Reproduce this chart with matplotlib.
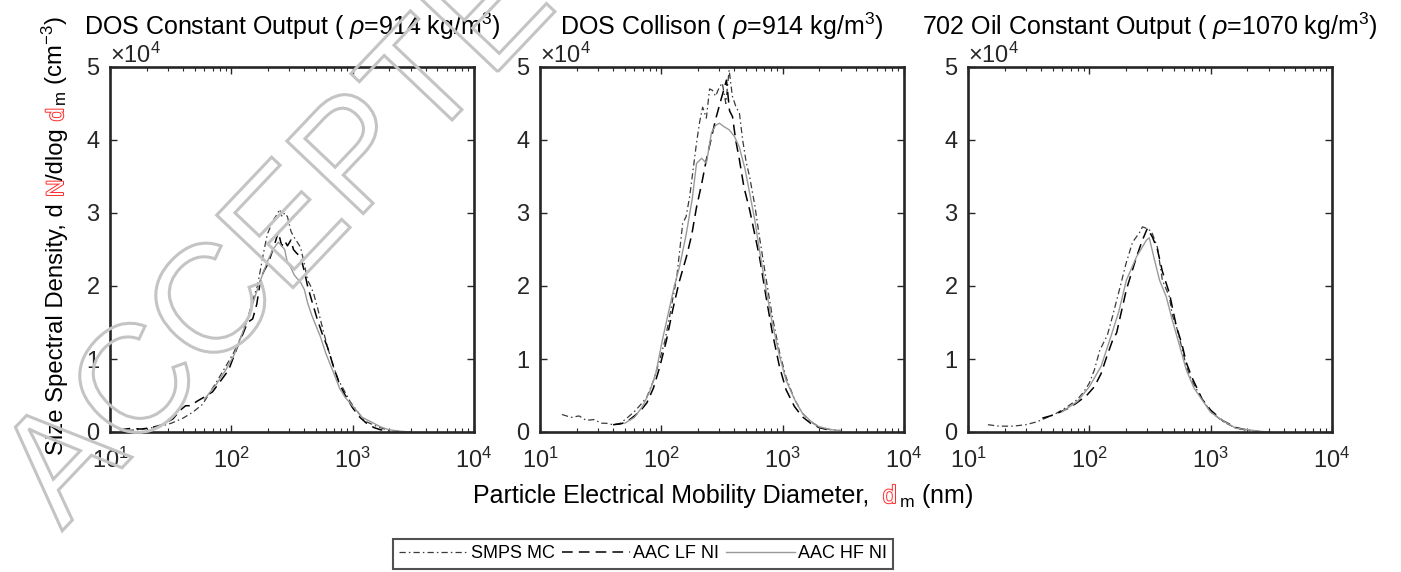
import numpy as np
import matplotlib
matplotlib.use("Agg")
import matplotlib.pyplot as plt
import matplotlib.patheffects as pe
from matplotlib.ticker import ScalarFormatter
from matplotlib.textpath import TextPath
from matplotlib.patches import PathPatch
from matplotlib.font_manager import FontProperties
from matplotlib.transforms import Affine2D, IdentityTransform

plt.rcParams.update({
    'font.family': ['Liberation Sans', 'DejaVu Sans'],
    'mathtext.fontset': 'custom',
    'mathtext.rm': 'Liberation Sans',
    'mathtext.it': 'Liberation Sans:italic',
    'mathtext.bf': 'Liberation Sans:bold',
    'mathtext.sf': 'Liberation Sans',
})

# ---- data (diameter in nm, dN/dlogdm in units of 1e4 cm^-3) ----
titles = ["DOS Constant Output ( $\\rho$=914 kg/m$^3$)",
          "DOS Collison ( $\\rho$=914 kg/m$^3$)",
          "702 Oil Constant Output ( $\\rho$=1070 kg/m$^3$)"]
series_names = ["SMPS MC", "AAC LF NI", "AAC HF NI"]

# panel 1 - DOS constant output
p1_smps_d = [14, 18.7, 25, 32, 40, 48, 58, 77, 90, 104, 120, 136, 150, 164, 175, 184, 198,
             210, 225, 236, 250, 262, 275, 290, 310, 325, 350, 372, 400, 425, 450, 476, 514,
             544, 580, 621, 697, 760, 843, 950, 1019, 1165, 1300, 1611, 2000, 2500, 3000]
p1_smps_v = [0.02, 0.04, 0.07, 0.12, 0.19, 0.27, 0.38, 0.71, 0.9, 1.08, 1.3, 1.55, 1.8, 2.0,
             2.25, 2.45, 2.71, 2.81, 2.92, 2.97, 3.05, 2.95, 3.0, 2.95, 2.75, 2.68, 2.6, 2.53,
             2.3, 2.08, 2.0, 1.9, 1.7, 1.53, 1.35, 1.16, 0.89, 0.72, 0.58, 0.42, 0.35, 0.22,
             0.14, 0.07, 0.02, 0.005, 0.0]
p1_lf_d = [12, 15, 18, 22, 27, 33, 38, 42, 46, 52, 60, 70, 80, 95, 112, 125, 136, 150, 162,
           174, 185, 200, 215, 230, 244, 260, 275, 290, 310, 325, 345, 372, 400, 425, 460, 514,
           560, 621, 697, 780, 870, 1000, 1150, 1300, 1500, 1700, 2000]
p1_lf_v = [0.03, 0.05, 0.04, 0.06, 0.1, 0.18, 0.3, 0.36, 0.36, 0.42, 0.48, 0.55, 0.68, 0.85,
           1.16, 1.35, 1.5, 1.55, 1.75, 2.08, 2.2, 2.3, 2.45, 2.6, 2.74, 2.55, 2.62, 2.55,
           2.63, 2.5, 2.45, 2.4, 2.2, 2.0, 1.8, 1.53, 1.35, 1.16, 0.89, 0.65, 0.5, 0.33, 0.2,
           0.12, 0.06, 0.03, 0.01]
p1_hf_d = [60, 75, 90, 105, 120, 140, 160, 180, 200, 220, 244, 260, 275, 290, 310, 330, 350,
           372, 400, 425, 460, 500, 544, 600, 697, 780, 870, 1019, 1200, 1492, 1700, 2000,
           2500, 3000]
p1_hf_v = [0.45, 0.65, 0.85, 1.05, 1.3, 1.6, 1.9, 2.15, 2.35, 2.5, 2.6, 2.55, 2.5, 2.32, 2.25,
           2.15, 2.1, 2.05, 1.95, 1.77, 1.6, 1.45, 1.3, 1.08, 0.81, 0.6, 0.47, 0.34, 0.2, 0.12,
           0.07, 0.03, 0.01, 0.0]

# panel 2 - DOS Collison
p2_smps_d = [15.2, 18, 21, 24, 28, 32, 35, 40, 46, 52, 60, 68, 76, 86, 97, 107, 117, 125, 134,
             142, 150, 160, 171, 183, 195, 207, 219, 235, 250, 264, 280, 300, 318, 340, 362,
             385, 413, 440, 468, 500, 535, 590, 644, 730, 822, 940, 1066, 1250, 1449, 1700,
             1999, 2500, 3000]
p2_smps_v = [0.24, 0.20, 0.22, 0.16, 0.17, 0.12, 0.12, 0.1, 0.12, 0.19, 0.28, 0.38, 0.48, 0.7,
             0.99, 1.25, 1.58, 1.85, 2.12, 2.5, 2.86, 2.95, 3.22, 3.6, 3.96, 4.25, 4.45, 4.3,
             4.7, 4.68, 4.6, 4.72, 4.78, 4.5, 4.96, 4.6, 4.45, 4.37, 4.0, 3.7, 3.49, 3.1, 2.67,
             2.1, 1.58, 1.1, 0.75, 0.45, 0.26, 0.14, 0.07, 0.03, 0.02]
p2_lf_d = [40, 46, 52, 60, 68, 76, 86, 97, 110, 124, 140, 161, 178, 195, 215, 235, 260, 284,
           310, 344, 365, 386, 410, 440, 480, 535, 590, 644, 730, 822, 940, 1066, 1250, 1449,
           1700, 2000, 2500]
p2_lf_v = [0.1, 0.11, 0.14, 0.22, 0.3, 0.40, 0.6, 0.89, 1.25, 1.67, 2.05, 2.40, 2.7, 3.08,
           3.4, 3.73, 4.05, 4.32, 4.55, 4.82, 4.4, 4.32, 4.0, 3.73, 3.35, 3.04, 2.7, 2.40,
           1.85, 1.36, 0.9, 0.58, 0.35, 0.21, 0.12, 0.06, 0.02]
p2_hf_d = [50, 60, 70, 80, 90, 102, 115, 128, 141, 160, 180, 195, 215, 235, 259, 280, 301,
           330, 362, 400, 440, 490, 535, 590, 644, 730, 822, 940, 1066, 1250, 1449, 1700,
           2000, 2570, 3000]
p2_hf_v = [0.12, 0.2, 0.35, 0.55, 0.8, 1.26, 1.65, 2.0, 2.26, 2.7, 3.2, 3.68, 3.75, 3.68,
           4.10, 4.2, 4.23, 4.18, 4.14, 4.05, 3.90, 3.6, 3.27, 2.9, 2.49, 1.95, 1.49, 1.05,
           0.71, 0.45, 0.26, 0.15, 0.07, 0.03, 0.02]

# panel 3 - 702 oil constant output
p3_smps_d = [14.6, 18, 23.5, 30, 37, 45, 54, 65, 79, 90, 100, 110, 122, 141, 155, 177, 200,
             227, 259, 274, 296, 325, 364, 400, 457, 483, 521, 560, 630, 700, 850, 1000, 1245,
             1620, 2076, 2500, 3000]
p3_smps_v = [0.10, 0.08, 0.08, 0.1, 0.14, 0.2, 0.26, 0.34, 0.44, 0.55, 0.67, 0.85, 1.12, 1.33,
             1.58, 1.95, 2.3, 2.60, 2.73, 2.81, 2.79, 2.75, 2.53, 2.08, 1.85, 1.6, 1.45, 1.25,
             0.9, 0.7, 0.45, 0.28, 0.15, 0.05, 0.02, 0.01, 0.0]
p3_lf_d = [41, 50, 57, 68, 79, 95, 110, 125, 139, 155, 168, 177, 202, 245, 274, 301, 331, 364,
           400, 457, 521, 580, 630, 700, 850, 1000, 1245, 1620, 2076]
p3_lf_v = [0.19, 0.23, 0.27, 0.33, 0.40, 0.5, 0.62, 0.8, 1.03, 1.25, 1.36, 1.53, 1.95, 2.40,
           2.63, 2.79, 2.67, 2.5, 2.2, 1.9, 1.45, 1.2, 0.95, 0.75, 0.45, 0.3, 0.16, 0.06, 0.02]
p3_hf_d = [60, 80, 100, 125, 150, 175, 202, 245, 296, 312, 344, 379, 431, 483, 540, 630, 730,
           850, 1000, 1245, 1620, 2076, 2500, 3000]
p3_hf_v = [0.28, 0.42, 0.62, 0.9, 1.3, 1.65, 2.08, 2.40, 2.63, 2.66, 2.36, 2.08, 1.85, 1.53,
           1.25, 0.85, 0.6, 0.44, 0.27, 0.16, 0.05, 0.03, 0.01, 0.0]

panels = [
    [(p1_smps_d, p1_smps_v), (p1_lf_d, p1_lf_v), (p1_hf_d, p1_hf_v)],
    [(p2_smps_d, p2_smps_v), (p2_lf_d, p2_lf_v), (p2_hf_d, p2_hf_v)],
    [(p3_smps_d, p3_smps_v), (p3_lf_d, p3_lf_v), (p3_hf_d, p3_hf_v)],
]

styles = [
    dict(color='#3a3a3a', lw=0.9, ls=(0, (5, 2.5, 1.2, 2.5))),
    dict(color='black', lw=1.1, ls=(0, (7, 4))),
    dict(color='#9a9a9a', lw=1.0, ls='-'),
]

W, H = 1401, 572
fig = plt.figure(figsize=(W / 100, H / 100), dpi=100)

ax_left = [110, 540, 968]   # pixel positions
ax_w = 364
ax_top, ax_bot = 67, 432
dark = '#262626'
TICK_FS = 17
LABEL_FS = 18

axes = []
for i in range(3):
    ax = fig.add_axes([ax_left[i] / W, (H - ax_bot) / H, ax_w / W, (ax_bot - ax_top) / H])
    for (d, v), st in zip(panels[i], styles):
        ax.plot(d, np.array(v) * 1e4, **st)
    ax.set_xscale('log')
    ax.set_xlim(10, 1e4)
    ax.set_ylim(0, 5e4)
    ax.set_yticks([0, 1e4, 2e4, 3e4, 4e4, 5e4])
    fmt = ScalarFormatter(useMathText=True)
    fmt.set_powerlimits((0, 0))
    ax.yaxis.set_major_formatter(fmt)
    ax.yaxis.get_offset_text().set_fontsize(TICK_FS)
    ax.yaxis.get_offset_text().set_color(dark)
    ax.tick_params(which='both', direction='in', top=True, right=True,
                   colors=dark, labelsize=TICK_FS)
    ax.tick_params(axis='x', which='both', pad=11)
    ax.tick_params(axis='y', which='both', pad=7)
    ax.tick_params(which='major', length=5, width=1.0)
    ax.tick_params(which='minor', length=3, width=0.8)
    for s in ax.spines.values():
        s.set_linewidth(1.9)
        s.set_color(dark)
    ax.text(0.5, 1.088, titles[i], transform=ax.transAxes, ha='center', va='baseline',
            fontsize=LABEL_FS, color='black')
    axes.append(ax)

# ---- labels with coloured letters ----
renderer = fig.canvas.get_renderer()


def text_w(s, size):
    t = fig.text(0, 0, s, fontsize=size)
    w = t.get_window_extent(renderer).width
    t.remove()
    return w


def multicolor(x, y, parts, size, rotation=0):
    full = ''.join(p[0] for p in parts)
    total = text_w(full, size)
    ang = np.deg2rad(rotation)
    ux, uy = np.cos(ang), np.sin(ang)
    prefix = ''
    for s, red in parts:
        off = -total / 2 + text_w(prefix + s, size) - text_w(s, size)
        kw = dict(transform=IdentityTransform(), fontsize=size, rotation=rotation,
                  rotation_mode='anchor', ha='left', va='baseline')
        if red:
            kw['color'] = 'white'
            kw['path_effects'] = [pe.withStroke(linewidth=1.4, foreground='#ff2a2a')]
        else:
            kw['color'] = 'black'
        fig.text(x + off * ux, y + off * uy, s, **kw)
        prefix += s


ylabel_parts = [("Size Spectral Density, d ", False), ("N", True), ("/dlog ", False),
                ("d", True), ("$_{\\mathrm{m}}$ (cm$^{-3}$)", False)]
xlabel_parts = [("Particle Electrical Mobility Diameter,  ", False), ("d", True),
                ("$_{\\mathrm{m}}$ (nm)", False)]
multicolor(63, H - 236, ylabel_parts, 17.2, rotation=90)
multicolor(723, H - 503, xlabel_parts, LABEL_FS, rotation=0)

# ---- legend ----
leg = fig.legend(axes[0].get_lines(), series_names, loc='center', ncol=3,
                 bbox_to_anchor=(643 / W, (H - 554) / H), fontsize=13, frameon=True,
                 fancybox=False, edgecolor=dark, handlelength=3.8, handletextpad=0.15,
                 columnspacing=0.4, borderpad=0.35, borderaxespad=0)
leg.get_frame().set_linewidth(1.5)

# ---- watermark ----
fp = FontProperties(family='Liberation Sans')
tp = TextPath((0, 0), "ACCEPTED", size=153, prop=fp)
tr = Affine2D().rotate_deg(46.5).translate(62, H - 531)
wm = PathPatch(tr.transform_path(tp), facecolor='none', edgecolor='#c4c4c4', lw=2.2,
               transform=IdentityTransform(), zorder=20)
fig.add_artist(wm)

fig.savefig('out.png', dpi=100)
